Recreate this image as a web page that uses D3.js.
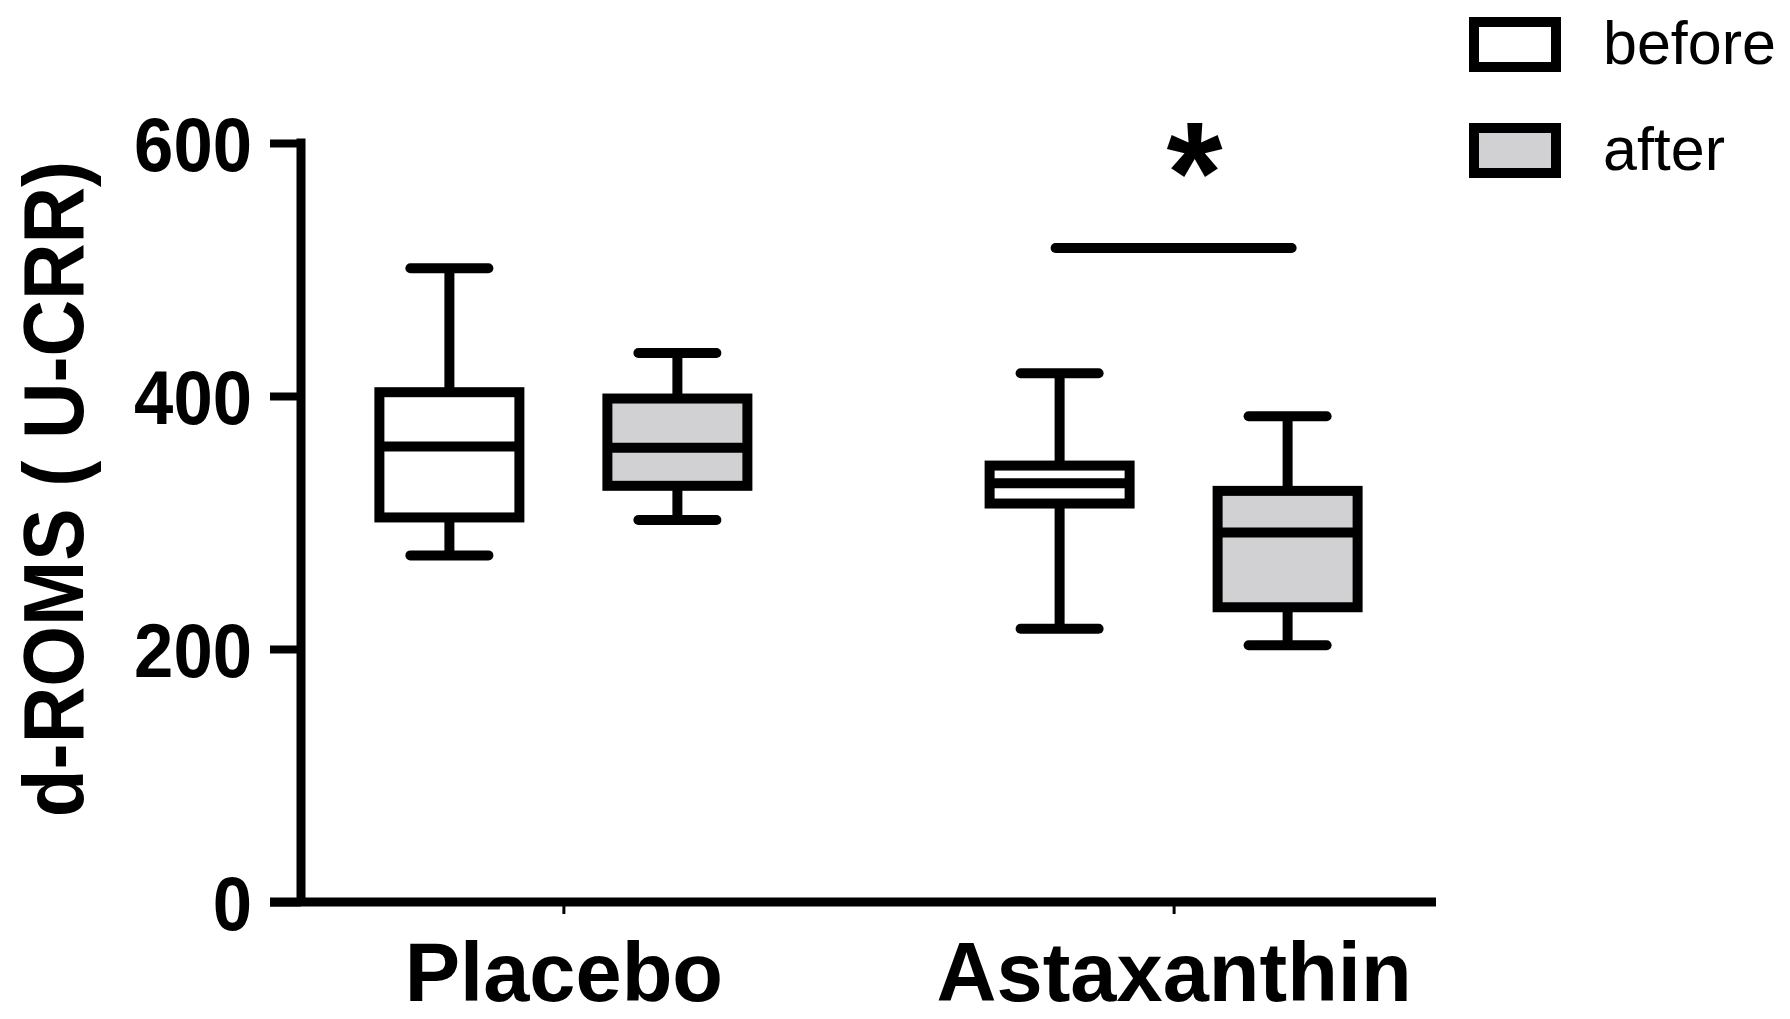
<!DOCTYPE html>
<html><head><meta charset="utf-8">
<script src="https://cdn.jsdelivr.net/npm/d3@7"></script>
<style>html,body{margin:0;padding:0;background:#fff;}svg{display:block;}</style>
</head><body>
<svg id="chart" width="1790" height="1019"></svg>
<script>
// ---- data ----
const categories = ["Placebo", "Astaxanthin"];
const seriesNames = ["before", "after"];
// [min, q1, median, q3, max]
const beforeStats = [[274, 304, 360, 403, 501], [216, 315, 331, 345, 418]];
const afterStats  = [[302, 329, 359, 398, 434], [203, 233, 292, 325, 384]];
const yTicks = [0, 200, 400, 600];
const yTitle = "d-ROMS ( U-CRR)";
const sigCategory = "Astaxanthin";
const sigValue = 517;
const sigLabel = "*";

// ---- layout ----
const FONT = "Liberation Sans, Arial, sans-serif";
const svg = d3.select("#chart");
const fills = {before: "#ffffff", after: "#d1d1d4"};
const AX = 301;
const y = d3.scaleLinear().domain([0, 600]).range([902, 143]);
const x = d3.scalePoint().domain(categories).range([AX, 1436]).padding(0.43);
const xs = d3.scaleBand().domain(seriesNames).range([-228, 228]);
const boxW = 140, capW = 78, SW = 10;

const data = [];
categories.forEach((c, i) => {
  data.push({cat: c, s: "before", v: beforeStats[i]});
  data.push({cat: c, s: "after", v: afterStats[i]});
});

const g = svg.append("g");
data.forEach(d => {
  const cx = x(d.cat) + xs(d.s) + xs.bandwidth() / 2;
  const [mn, q1, md, q3, mx] = d.v;
  const bg = g.append("g").attr("stroke", "#000").attr("stroke-width", SW);
  bg.append("line").attr("x1", cx).attr("x2", cx).attr("y1", y(q3)).attr("y2", y(mx));
  bg.append("line").attr("x1", cx).attr("x2", cx).attr("y1", y(q1)).attr("y2", y(mn));
  bg.append("line").attr("x1", cx - capW / 2).attr("x2", cx + capW / 2).attr("y1", y(mx)).attr("y2", y(mx)).attr("stroke-linecap", "round");
  bg.append("line").attr("x1", cx - capW / 2).attr("x2", cx + capW / 2).attr("y1", y(mn)).attr("y2", y(mn)).attr("stroke-linecap", "round");
  bg.append("rect").attr("x", cx - boxW / 2).attr("width", boxW)
    .attr("y", y(q3)).attr("height", y(q1) - y(q3)).attr("fill", fills[d.s]);
  bg.append("line").attr("x1", cx - boxW / 2).attr("x2", cx + boxW / 2).attr("y1", y(md)).attr("y2", y(md));
});

// axes
const tickSX = 0.93;
const yAxis = d3.axisLeft(y).tickValues(yTicks).tickSize(31).tickSizeOuter(0);
const ya = svg.append("g").attr("transform", `translate(${AX},0)`).call(yAxis);
ya.select(".domain").attr("stroke-width", 9).attr("d", `M0,${y(600) - 4.5}V${y(0)}`);
ya.selectAll(".tick line").attr("stroke-width", 8);
ya.selectAll(".tick text").attr("font-family", FONT)
  .attr("font-weight", "bold").attr("font-size", 76).attr("fill", "#000")
  .attr("x", -49 / tickSX).attr("dy", "0.36em").attr("transform", `scale(${tickSX},1)`);

const xAxis = d3.axisBottom(x).tickSize(12).tickPadding(28).tickSizeOuter(0);
const xa = svg.append("g").attr("transform", `translate(0,${y(0)})`).call(xAxis);
xa.select(".domain").attr("stroke-width", 9).attr("d", `M270,0H1436`);
xa.selectAll(".tick line").attr("stroke-width", 3);
xa.selectAll(".tick text").attr("font-family", FONT)
  .attr("font-weight", "bold").attr("font-size", 83).attr("fill", "#000").attr("dy", "0.71em");

// y title
svg.append("text").attr("transform", "translate(83,489) rotate(-90) scale(0.91,1)")
  .attr("text-anchor", "middle").attr("font-family", FONT)
  .attr("font-weight", "bold").attr("font-size", 86).text(yTitle);

// significance
const sx = x(sigCategory);
svg.append("line").attr("x1", sx - 118).attr("x2", sx + 118).attr("y1", y(sigValue)).attr("y2", y(sigValue))
  .attr("stroke", "#000").attr("stroke-width", 10).attr("stroke-linecap", "round");
svg.append("text").attr("x", sx + 21).attr("y", 223).attr("text-anchor", "middle")
  .attr("font-family", FONT).attr("font-weight", "bold")
  .attr("font-size", 144).text(sigLabel);

// legend
const lg = svg.append("g");
seriesNames.forEach((s, i) => {
  const yy = 44.5 + i * 106;
  lg.append("rect").attr("x", 1474).attr("y", yy - 22.5).attr("width", 82).attr("height", 45)
    .attr("fill", fills[s]).attr("stroke", "#000").attr("stroke-width", 10);
  lg.append("text").attr("x", 1603).attr("y", yy + 19).attr("font-family", FONT)
    .attr("font-size", 61).text(s);
});
</script>
</body></html>
